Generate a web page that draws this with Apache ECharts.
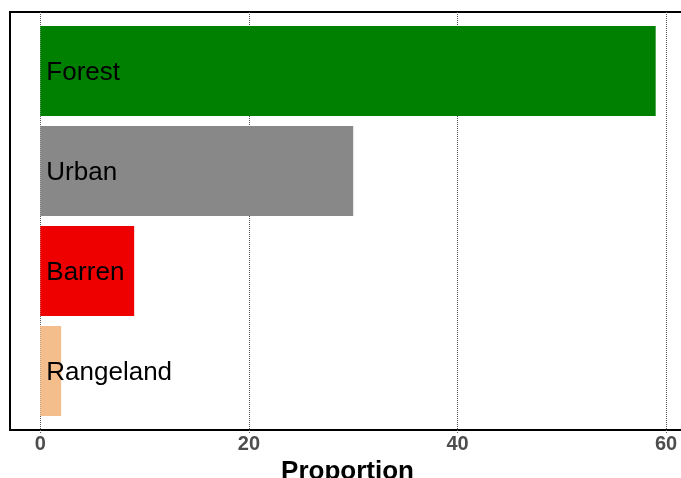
<!DOCTYPE html>
<html>
<head>
<meta charset="utf-8">
<script src="https://cdn.jsdelivr.net/npm/echarts@6/dist/echarts.min.js"></script>
<style>html,body{margin:0;padding:0;background:#fff;}#c{width:681px;height:478px;}</style>
</head>
<body>
<div id="c"></div>
<script>
const categories = ['Forest', 'Urban', 'Barren', 'Rangeland'];
const values = [59, 30, 9, 2];
const barColors = ['#008000', '#888888', '#EE0000', '#F4BD8C'];
const tickValues = [0, 20, 40, 60];
const xMin = -2.905, xMax = 61.81;

const chart = echarts.init(document.getElementById('c'));
chart.setOption({
  animation: false,
  grid: [
    {left: 10, right: -4, top: 21, bottom: 57, containLabel: false, outerBoundsMode: 'none'},
    {left: 10, right: -4, top: 12, bottom: 48, show: true, borderColor: '#000', borderWidth: 2, backgroundColor: 'transparent', containLabel: false, outerBoundsMode: 'none'}
  ],
  xAxis: [
    {gridIndex: 0, type: 'value', min: xMin, max: xMax, show: false},
    {gridIndex: 1, type: 'value', min: xMin, max: xMax,
     axisLine: {show: false},
     axisTick: {show: true, customValues: tickValues, length: 3, lineStyle: {color: '#555', type: 'dotted'}},
     axisLabel: {customValues: tickValues, margin: 4, fontFamily: 'Liberation Sans', fontWeight: 'bold', fontSize: 20, color: '#4D4D4D'},
     splitLine: {show: true, lineStyle: {color: '#555', type: 'dotted', width: 1}},
     name: 'Proportion', nameLocation: 'middle', nameGap: 26,
     nameTextStyle: {fontFamily: 'Liberation Sans', fontWeight: 'bold', fontSize: 26, color: '#000'}
    }
  ],
  yAxis: [
    {gridIndex: 0, type: 'category', data: categories, inverse: true, show: false},
    {gridIndex: 1, type: 'value', show: false}
  ],
  series: [{
    type: 'bar', xAxisIndex: 0, yAxisIndex: 0,
    barWidth: 90,
    z: 3,
    data: values.map((v, i) => ({value: v, itemStyle: {color: barColors[i]}})),
    label: {
      show: true, position: 'insideLeft', distance: 6, offset: [0, 2],
      formatter: p => categories[p.dataIndex],
      fontFamily: 'Liberation Sans', fontSize: 26, color: '#000'
    }
  }]
});
</script>
</body>
</html>
